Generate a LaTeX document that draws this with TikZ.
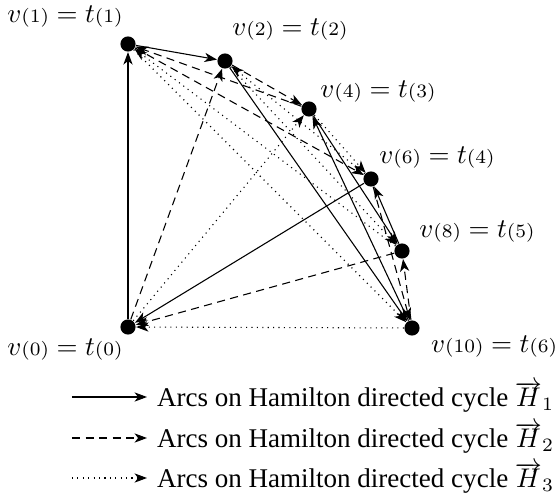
\documentclass[tikz,border=0pt]{standalone}
\usepackage{fontspec}
\setmainfont{Liberation Serif}
\usetikzlibrary{arrows.meta}
\newcommand{\ix}[1]{{\scriptstyle(#1)}}
\begin{document}
\begin{tikzpicture}[x=0.37pt,y=-0.37pt,
 vtx/.style={circle,fill=black,inner sep=0pt,minimum size=5.6pt},
 lbl/.style={inner sep=0pt},
 arc/.style={-{Stealth[length=4.6pt,width=3.4pt,inset=1.3pt]},line width=0.4pt},
 hone/.style={arc},
 htwo/.style={arc,dash pattern=on 3pt off 2pt},
 hthree/.style={arc,dash pattern=on 0.4pt off 1.6pt},
 leg/.style={anchor=west,inner sep=3.5pt}]
\useasboundingbox (0,0) rectangle (557,498);
% vertices
\node[vtx] (v1) at (128,44) {};
\node[vtx] (v2) at (225,61) {};
\node[vtx] (v4) at (309,109) {};
\node[vtx] (v6) at (371,179) {};
\node[vtx] (v8) at (402,251) {};
\node[vtx] (v10) at (412,328) {};
\node[vtx] (v0) at (128,327) {};
% labels
\node[lbl] (l1) at (65,17) {$v\ix{1}=t\ix{1}$};
\node[lbl] (l2) at (290,30) {$v\ix{2}=t\ix{2}$};
\node[lbl] (l4) at (378,92) {$v\ix{4}=t\ix{3}$};
\node[lbl] (l6) at (437,158) {$v\ix{6}=t\ix{4}$};
\node[lbl] (l8) at (477,232) {$v\ix{8}=t\ix{5}$};
\node[lbl] (l10) at (494,347) {$v\ix{10}=t\ix{6}$};
\node[lbl] (l0) at (65,350) {$v\ix{0}=t\ix{0}$};
% H1 solid
\draw[hone] (v0) -- (v1);
\draw[hone] (v1) -- (v2);
\draw[hone] (v2) -- (v10);
\draw[hone] (v10) -- (v4);
\draw[hone] (v4) -- (v8);
\draw[hone] (v8) -- (v6);
\draw[hone] (v6) -- (v0);
% H2 dashed
\draw[htwo] (v0) -- (v2);
\draw[htwo] (v2) -- (v4);
\draw[htwo] (v4) -- (v1);
\draw[htwo] (v1) -- (v6);
\draw[htwo] (v6) -- (v10);
\draw[htwo] (v10) -- (v8);
\draw[htwo] (v8) -- (v0);
% H3 dotted
\draw[hthree] (v0) -- (v4);
\draw[hthree] (v4) -- (v6);
\draw[hthree] (v6) -- (v2);
\draw[hthree] (v2) -- (v8);
\draw[hthree] (v8) -- (v1);
\draw[hthree] (v1) -- (v10);
\draw[hthree] (v10) -- (v0);
% legend
\coordinate (s1) at (72,397);
\coordinate (s2) at (72,438);
\coordinate (s3) at (72,478);
\node[leg] (t1) at (147,397) {Arcs on Hamilton directed cycle $\overrightarrow{H}_1$};
\node[leg] (t2) at (147,438) {Arcs on Hamilton directed cycle $\overrightarrow{H}_2$};
\node[leg] (t3) at (147,478) {Arcs on Hamilton directed cycle $\overrightarrow{H}_3$};
\draw[hone] (s1) -- (t1.west);
\draw[htwo] (s2) -- (t2.west);
\draw[hthree] (s3) -- (t3.west);
\end{tikzpicture}
\end{document}
